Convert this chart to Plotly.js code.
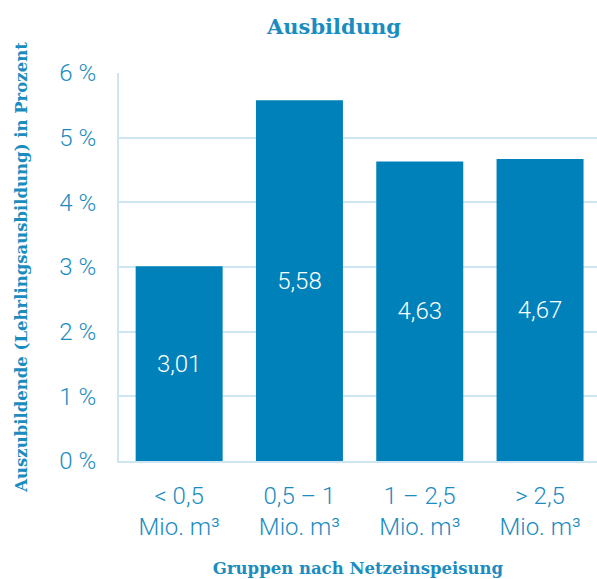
<!DOCTYPE html>
<html>
<head>
<meta charset="utf-8">
<script src="https://cdn.plot.ly/plotly-3.0.1.min.js"></script>
<style>html,body{margin:0;padding:0;background:#fff;}</style>
</head>
<body>
<div id="chart" style="width:597px;height:579px;"></div>
<script>
const categories = ["< 0,5<br>Mio. m³", "0,5 – 1<br>Mio. m³", "1 – 2,5<br>Mio. m³", "> 2,5<br>Mio. m³"];
const values = [3.01, 5.58, 4.63, 4.67];
const valueLabels = ["3,01", "5,58", "4,63", "4,67"];
const yTickVals = [0, 1, 2, 3, 4, 5, 6];
const yTickText = ["0 %", "1 %", "2 %", "3 %", "4 %", "5 %", "6 %"];

const barColor = "#0081b9";
const textColor = "#1b8cc0";
const gridColor = "#cde6f2";
const serif = "DejaVu Serif";
const sans = "Roboto";

const trace = {
  type: "bar",
  x: [0, 1, 2, 3],
  y: values,
  text: valueLabels,
  textposition: "inside",
  insidetextanchor: "middle",
  textfont: {family: sans, size: 24, color: "#ffffff", weight: 300},
  marker: {color: barColor},
  hoverinfo: "none"
};

const layout = {
  width: 597,
  height: 579,
  margin: {l: 119, r: 0, t: 73, b: 118},
  paper_bgcolor: "#ffffff",
  plot_bgcolor: "#ffffff",
  bargap: 0.277,
  showlegend: false,
  title: {
    text: "<b>Ausbildung</b>",
    font: {family: serif, size: 21, color: textColor},
    x: 334 / 597, xanchor: "center", xref: "container",
    y: 1 - 27 / 579, yanchor: "middle", yref: "container"
  },
  xaxis: {
    range: [-0.5, -0.5 + 478 / 120.3],
    tickvals: [0, 1, 2, 3],
    ticktext: categories,
    tickfont: {family: sans, size: 24, color: textColor, weight: 300},
    showgrid: false,
    zeroline: false,
    showline: true,
    linecolor: gridColor,
    linewidth: 2,
    ticks: "",
    ticklabelstandoff: 12,
    fixedrange: true,
    title: {
      text: "<b>Gruppen nach Netzeinspeisung</b>",
      font: {family: serif, size: 16.5, color: textColor},
      standoff: 22
    }
  },
  yaxis: {
    range: [0, 6],
    tickvals: yTickVals,
    ticktext: yTickText,
    tickfont: {family: sans, size: 24, color: textColor, weight: 300},
    showgrid: true,
    gridcolor: gridColor,
    gridwidth: 2,
    zeroline: false,
    showline: true,
    linecolor: gridColor,
    linewidth: 2,
    ticks: "",
    ticklabelstandoff: 16,
    fixedrange: true,
    title: {
      text: "<b>Auszubildende (Lehrlingsausbildung) in Prozent</b>",
      font: {family: serif, size: 16.5, color: textColor},
      standoff: 28
    }
  }
};

Plotly.newPlot("chart", [trace], layout, {displayModeBar: false, staticPlot: true});
</script>
</body>
</html>
